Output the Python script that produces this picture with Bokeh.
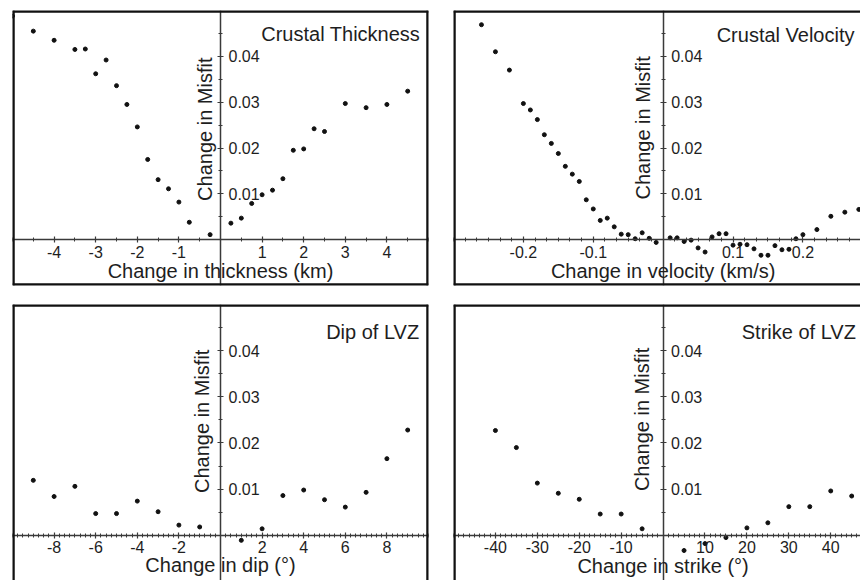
import numpy as np
from bokeh.plotting import figure
from bokeh.models import LinearAxis, FixedTicker, Span, Label, Range1d
from bokeh.layouts import column, row
from bokeh.embed import file_html
from bokeh.resources import INLINE

# ---------------- data ----------------
thick_x = [-5, -4.5, -4, -3.5, -3.25, -3, -2.75, -2.5, -2.25, -2, -1.75, -1.5, -1.25, -1,
           -0.75, -0.25, 0.25, 0.5, 0.75, 1, 1.25, 1.5, 1.75, 2, 2.25, 2.5, 3, 3.5, 4, 4.5]
thick_y = [0.0488, 0.0455, 0.0435, 0.0415, 0.0416, 0.0362, 0.0392, 0.0336, 0.0295, 0.0246,
           0.0175, 0.0131, 0.0111, 0.0082, 0.0038, 0.0011, 0.0036, 0.0047, 0.0079, 0.0098,
           0.0108, 0.0133, 0.0195, 0.0198, 0.0242, 0.0236, 0.0297, 0.0288, 0.0295, 0.0324]

vel_x = [-0.26, -0.24, -0.22, -0.20, -0.19, -0.18, -0.17, -0.16, -0.15, -0.14, -0.13, -0.12,
         -0.11, -0.10, -0.09, -0.08, -0.07, -0.06, -0.05, -0.04, -0.03, -0.02, -0.01,
         0.01, 0.02, 0.03, 0.04, 0.05, 0.06, 0.07, 0.08, 0.09, 0.10, 0.11, 0.12, 0.13,
         0.14, 0.15, 0.16, 0.17, 0.18, 0.19, 0.20, 0.22, 0.24, 0.26, 0.28]
vel_y = [0.0469, 0.0410, 0.0370, 0.0297, 0.0283, 0.0262, 0.0229, 0.0210, 0.0188, 0.0160,
         0.0143, 0.0127, 0.0087, 0.0067, 0.0042, 0.0047, 0.0028, 0.0012, 0.0011, 0.0002,
         0.0015, 0.0003, -0.0006,
         0.0004, 0.0004, -0.0004, -0.0001, -0.0018, -0.0027, 0.0006, 0.0013, 0.0013,
         -0.0012, -0.0010, -0.0011, -0.0020, -0.0034, -0.0034, -0.0013, -0.0022, -0.0021,
         0.0002, 0.0011, 0.0022, 0.0051, 0.0060, 0.0066]

dip_x = [-9, -8, -7, -6, -5, -4, -3, -2, -1, 1, 2, 3, 4, 5, 6, 7, 8, 9]
dip_y = [0.0119, 0.0084, 0.0106, 0.0047, 0.0047, 0.0074, 0.0051, 0.0022, 0.0018, -0.0011,
         0.0014, 0.0086, 0.0098, 0.0077, 0.0061, 0.0093, 0.0166, 0.0228]

strike_x = [-40, -35, -30, -25, -20, -15, -10, -5, 5, 10, 15, 20, 25, 30, 35, 40, 45]
strike_y = [0.0227, 0.0190, 0.0113, 0.0091, 0.0078, 0.0046, 0.0046, 0.0014, -0.0033, -0.0018,
            -0.0005, 0.0016, 0.0027, 0.0062, 0.0062, 0.0096, 0.0085]

# ticks and labels
misfit_ticks = [0.01, 0.02, 0.03, 0.04]
misfit_labels = ["0.01", "0.02", "0.03", "0.04"]
misfit_minor = [0.005, 0.015, 0.025, 0.035, 0.045]

thick_ticks = [-4, -3, -2, -1, 1, 2, 3, 4]
thick_labels = ["-4", "-3", "-2", "-1", "1", "2", "3", "4"]
thick_minor = [v * 0.5 for v in range(-10, 11)]

vel_ticks = [-0.2, -0.1, 0.1, 0.2]
vel_labels = ["-0.2", "-0.1", "0.1", "0.2"]
vel_minor = [round(v / 60, 5) for v in range(-18, 19)]

dip_ticks = [-8, -6, -4, -2, 2, 4, 6, 8]
dip_labels = ["-8", "-6", "-4", "-2", "2", "4", "6", "8"]
dip_minor = [v * 0.25 for v in range(-40, 41)]

strike_ticks = [-40, -30, -20, -10, 10, 20, 30, 40]
strike_labels = ["-40", "-30", "-20", "-10", "10", "20", "30", "40"]
strike_minor = [v * 1.25 for v in range(-40, 41)]

FONT = "Liberation Sans"
INK = "#1e1e1e"
AXC = "#3a3a3a"
FRAME = "#111111"


def style_axis(ax):
    ax.axis_line_color = AXC
    ax.axis_line_width = 1.5
    ax.major_tick_line_color = AXC
    ax.minor_tick_line_color = AXC
    ax.major_tick_line_width = 1.2
    ax.minor_tick_line_width = 1
    ax.major_tick_in = 3
    ax.major_tick_out = 3
    ax.minor_tick_in = 2
    ax.minor_tick_out = 2
    ax.major_label_text_font = FONT
    ax.major_label_text_font_size = "16px"
    ax.major_label_text_color = INK


def panel(w, h, mb, xr, yr, xs, ys, xt, xl, xm, title, tpos, xlabel, xlab_off,
          ylab_off, ylab_y, sides):
    p = figure(width=w, height=h, x_range=Range1d(*xr), y_range=Range1d(*yr),
               output_backend="svg", toolbar_location=None,
               x_axis_location=None, y_axis_location=None,
               min_border_left=mb[0], min_border_right=mb[1],
               min_border_top=mb[2], min_border_bottom=mb[3],
               outline_line_color=None, background_fill_color="white",
               border_fill_color="white")
    p.xgrid.visible = False
    p.ygrid.visible = False
    xa = LinearAxis(fixed_location=0,
                    ticker=FixedTicker(ticks=xt, minor_ticks=xm),
                    major_label_overrides=dict(zip(xt, xl)))
    style_axis(xa)
    xa.major_label_standoff = 3
    p.add_layout(xa, "below")
    ya = LinearAxis(fixed_location=0,
                    ticker=FixedTicker(ticks=misfit_ticks, minor_ticks=misfit_minor),
                    major_label_overrides=dict(zip(misfit_ticks, misfit_labels)))
    style_axis(ya)
    ya.major_label_standoff = 5
    p.add_layout(ya, "right")

    for s in sides:
        if s == "left":
            sp = Span(location=xr[0], dimension="height")
        elif s == "right":
            sp = Span(location=xr[1], dimension="height")
        elif s == "top":
            sp = Span(location=yr[1], dimension="width")
        else:
            sp = Span(location=yr[0], dimension="width")
        sp.line_color = FRAME
        sp.line_width = 4.5
        p.add_layout(sp)

    p.scatter(xs, ys, size=4, color="#111111", marker="circle")

    p.add_layout(Label(x=tpos[0], y=tpos[1], y_offset=5, text=title, text_align="right",
                       text_baseline="alphabetic", text_font=FONT,
                       text_font_size="20px", text_color=INK))
    p.add_layout(Label(x=0, y=0, y_offset=-xlab_off, text=xlabel, text_align="center",
                       text_baseline="alphabetic", text_font=FONT,
                       text_font_size="20px", text_color=INK))
    p.add_layout(Label(x=0, y=ylab_y, x_offset=-ylab_off, text="Change in Misfit",
                       angle=90, angle_units="deg", text_align="center",
                       text_baseline="alphabetic", text_font=FONT,
                       text_font_size="20px", text_color=INK))
    return p


p1 = panel(440, 295, (12, 12, 10, 10), (-5, 5), (-0.01, 0.05), thick_x, thick_y,
           thick_ticks, thick_labels, thick_minor, "Crustal Thickness", (4.8, 0.0437),
           "Change in thickness (km)", 31, 16, 0.0241, ["left", "right", "top", "bottom"])
p2 = panel(420, 295, (13, 0, 10, 10), (-0.3, 0.2824), (-0.01, 0.05), vel_x, vel_y,
           vel_ticks, vel_labels, vel_minor, "Crustal Velocity", (0.2738, 0.0435),
           "Change in velocity (km/s)", 31, 20, 0.0244, ["left", "top", "bottom"])
p3 = panel(440, 285, (12, 12, 9, 0), (-10, 10), (-0.0098, 0.05), dip_x, dip_y,
           dip_ticks, dip_labels, dip_minor, "Dip of LVZ", (9.55, 0.043),
           "Change in dip (°)", 30, 19, 0.0247, ["left", "right", "top"])
p4 = panel(420, 285, (13, 0, 9, 0), (-50, 47.1), (-0.0098, 0.05), strike_x, strike_y,
           strike_ticks, strike_labels, strike_minor, "Strike of LVZ", (46.0, 0.043),
           "Change in strike (°)", 31, 21, 0.0251, ["left", "top"])

layout = column(row(p1, p2), row(p3, p4))
open("out.html", "w").write(file_html(layout, INLINE))
